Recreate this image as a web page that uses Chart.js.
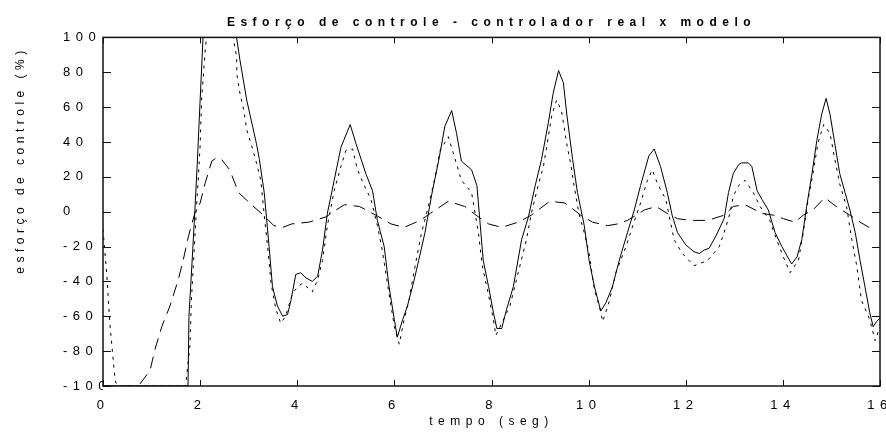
<!DOCTYPE html>
<html>
<head>
<meta charset="utf-8">
<script src="https://cdn.jsdelivr.net/npm/chart.js@4/dist/chart.umd.min.js"></script>
<style>
html,body{margin:0;padding:0;background:#fff;}
#wrap{width:886px;height:432px;}
</style>
</head>
<body>
<div id="wrap"><canvas id="c" width="886" height="432"></canvas></div>
<script>
// ---- data ----
const chartTitle = 'Esforço de controle - controlador real x modelo';
const xTitle = 'tempo (seg)';
const yTitle = 'esforço de controle (%)';
const xTicks = [0, 2, 4, 6, 8, 10, 12, 14, 16];
const yTicks = [-100, -80, -60, -40, -20, 0, 20, 40, 60, 80, 100];

// solid line (controlador real)
const realT = [0,1.75,1.77,1.85,1.89,1.94,2.00,2.06,2.75,2.82,2.96,3.16,3.22,3.32,3.42,3.49,3.59,3.70,3.80,3.87,3.97,4.07,4.18,4.31,4.42,4.52,4.62,4.76,4.90,5.09,5.21,5.41,5.55,5.65,5.79,5.89,6.00,6.06,6.17,6.27,6.40,6.50,6.63,6.77,6.91,7.04,7.18,7.28,7.38,7.59,7.70,7.76,7.83,7.94,8.04,8.11,8.21,8.31,8.45,8.62,8.76,8.90,9.03,9.17,9.27,9.38,9.48,9.55,9.67,9.77,9.91,10.01,10.12,10.25,10.36,10.49,10.63,10.80,10.94,11.07,11.24,11.35,11.48,11.62,11.72,11.83,12.00,12.17,12.28,12.38,12.48,12.62,12.79,12.88,12.98,13.09,13.15,13.29,13.36,13.47,13.57,13.70,13.84,13.98,14.08,14.18,14.29,14.39,14.49,14.60,14.70,14.80,14.89,14.97,15.07,15.17,15.28,15.38,15.49,15.59,15.69,15.79,15.86,15.93,16.00];
const realV = [-100,-100,-60,-21,0,27,64,100,100,87,64,39,30,11,-20,-43,-54,-60,-59,-51,-36,-35,-38,-40,-37,-22,-1,18,37,50,39,22,12,-5,-20,-43,-62,-72,-62,-54,-40,-28,-12,10,29,49,58,45,29,24,15,-5,-28,-43,-58,-67,-67,-56,-43,-16,-3,15,30,51,68,81,74,56,30,11,-8,-28,-43,-57,-52,-43,-28,-12,1,15,32,36,26,11,-2,-12,-19,-23,-24,-22,-21,-14,-4,11,22,27,28,28,26,12,7,1,-12,-20,-25,-30,-26,-16,3,22,41,56,65,56,39,22,11,1,-12,-28,-43,-58,-66,-63,-61];

// short-dash line (modelo)
const modelT = [0,0.08,0.14,0.25,0.30,1.70,1.79,1.82,1.86,1.93,1.96,2.00,2.03,2.10,2.13,2.68,2.75,2.76,2.82,2.90,2.96,3.06,3.16,3.25,3.32,3.39,3.46,3.56,3.66,3.76,3.90,4.01,4.11,4.31,4.42,4.52,4.62,4.76,4.90,5.00,5.14,5.24,5.38,5.52,5.65,5.75,5.89,6.00,6.10,6.20,6.30,6.40,6.56,6.70,6.84,6.94,7.11,7.21,7.38,7.59,7.73,7.81,7.94,8.04,8.09,8.21,8.38,8.55,8.72,8.82,8.96,9.07,9.24,9.34,9.44,9.55,9.64,9.70,9.80,9.91,10.01,10.12,10.22,10.29,10.43,10.56,10.77,10.91,11.07,11.21,11.31,11.42,11.59,11.76,11.93,12.17,12.45,12.69,12.79,12.91,12.98,13.09,13.22,13.39,13.53,13.73,13.87,14.01,14.15,14.32,14.42,14.52,14.62,14.72,14.84,14.97,15.07,15.17,15.31,15.42,15.52,15.62,15.79,15.90,16.00];
const modelV = [-10,-37,-64,-97,-100,-100,-77,-51,-31,5,18,38,64,91,100,100,89,78,68,58,47,38,28,18,-2,-20,-41,-56,-64,-60,-47,-43,-41,-46,-39,-28,-8,12,26,35,36,24,15,7,-8,-22,-47,-66,-76,-62,-51,-35,-12,3,20,35,43,34,18,11,-12,-31,-48,-62,-71,-64,-54,-35,-16,-1,15,26,55,64,58,39,26,15,-1,-12,-24,-45,-54,-63,-51,-35,-20,-8,5,18,24,16,7,-16,-24,-31,-28,-20,-12,-1,9,15,18,11,3,-5,-16,-26,-35,-28,-12,7,22,39,50,45,30,16,3,-16,-31,-51,-62,-74,-66];

// long-dash line (terceira curva)
const thirdT = [0,0.73,0.97,1.07,1.21,1.38,1.55,1.65,1.76,1.89,2.00,2.10,2.24,2.34,2.44,2.61,2.79,3.06,3.30,3.52,3.70,3.89,4.24,4.59,4.80,4.97,5.28,5.62,5.93,6.20,6.53,6.74,7.11,7.45,7.73,7.94,8.21,8.55,8.82,9.20,9.51,9.84,10.08,10.39,10.60,10.80,11.15,11.39,11.62,11.83,12.10,12.45,12.79,12.98,13.22,13.57,13.81,14.01,14.25,14.42,14.62,14.86,15.10,15.38,15.59,15.90];
const thirdV = [-100,-100,-91,-79,-66,-54,-39,-28,-14,-1,5,16,29,31,30,24,11,4,-2,-8,-9,-7,-6,-3,1,4,3,-2,-7,-9,-5,-1,6,3,-3,-7,-9,-6,-2,6,5,-2,-6,-8,-7,-5,1,3,-1,-4,-5,-5,-2,3,4,-1,-2,-4,-6,-2,1,8,3,-2,-6,-11];

function pts(t, v) { return t.map((x, i) => ({ x: x, y: v[i] })); }

const SPACING = '5.5px';
const spacingPlugin = {
  id: 'spacing',
  beforeUpdate(chart) { chart.ctx.letterSpacing = SPACING; },
  beforeLayout(chart) { chart.ctx.letterSpacing = SPACING; },
  beforeDraw(chart) { chart.ctx.letterSpacing = SPACING; }
};

const framePlugin = {
  id: 'frame',
  afterDatasetsDraw(chart) {
    const ctx = chart.ctx;
    const a = chart.chartArea;
    const xs = chart.scales.x, ys = chart.scales.y;
    ctx.save();
    ctx.strokeStyle = '#111';
    ctx.lineWidth = 1.5;
    ctx.strokeRect(a.left, a.top, a.right - a.left, a.bottom - a.top);
    ctx.lineWidth = 1;
    ctx.beginPath();
    xs.ticks.forEach(tk => {
      const px = Math.round(xs.getPixelForValue(tk.value)) + 0.5;
      ctx.moveTo(px, a.bottom); ctx.lineTo(px, a.bottom - 6);
      ctx.moveTo(px, a.top); ctx.lineTo(px, a.top + 6);
    });
    ys.ticks.forEach(tk => {
      const py = Math.round(ys.getPixelForValue(tk.value)) + 0.5;
      ctx.moveTo(a.left, py); ctx.lineTo(a.left + 8, py);
      ctx.moveTo(a.right, py); ctx.lineTo(a.right - 8, py);
    });
    ctx.stroke();
    ctx.restore();
  },
  afterDraw(chart) {
    const ctx = chart.ctx;
    ctx.save();
    ctx.letterSpacing = '4.5px';
    ctx.fillStyle = '#000';
    ctx.font = '12px "Liberation Sans", Arial, sans-serif';
    ctx.translate(21, 160);
    ctx.rotate(-Math.PI / 2);
    ctx.textAlign = 'center';
    ctx.textBaseline = 'middle';
    ctx.fillText(yTitle, 0, 0);
    ctx.restore();
  }
};

const tickFont = { family: '"Liberation Sans", Arial, sans-serif', size: 13 };

new Chart(document.getElementById('c'), {
  type: 'line',
  data: {
    datasets: [
      { label: 'real', data: pts(realT, realV), borderColor: '#000', borderWidth: 1, pointRadius: 0, tension: 0 },
      { label: 'modelo', data: pts(modelT, modelV), borderColor: '#000', borderWidth: 1, borderDash: [3, 5], pointRadius: 0, tension: 0 },
      { label: 'terceira', data: pts(thirdT, thirdV), borderColor: '#000', borderWidth: 1, borderDash: [12, 7], pointRadius: 0, tension: 0 }
    ]
  },
  options: {
    responsive: false,
    animation: false,
    events: [],
    layout: { padding: { left: 63, right: 6, top: 0, bottom: 0 } },
    plugins: {
      legend: { display: false },
      tooltip: { enabled: false },
      title: {
        display: true,
        text: chartTitle,
        fullSize: false,
        color: '#000',
        font: { family: '"Liberation Sans", Arial, sans-serif', size: 12, weight: 'bold', lineHeight: 1.2 },
        padding: { top: 15, bottom: 8 }
      }
    },
    scales: {
      x: {
        type: 'linear', min: 0, max: 16,
        afterBuildTicks(s) { s.ticks = xTicks.map(v => ({ value: v })); },
        afterFit(s) { s.height = 46; s.paddingLeft = 0; s.paddingRight = 0; },
        grid: { display: false, drawTicks: false },
        border: { display: false },
        ticks: { color: '#000', font: tickFont, padding: 12, maxRotation: 0, autoSkip: false },
        title: { display: true, text: xTitle, color: '#000', font: { family: '"Liberation Sans", Arial, sans-serif', size: 12 }, padding: { top: 0, bottom: 3 } }
      },
      y: {
        type: 'linear', min: -100, max: 100,
        afterBuildTicks(s) { s.ticks = yTicks.map(v => ({ value: v })); },
        afterFit(s) { s.width = 40; s.paddingTop = 0; s.paddingBottom = 0; },
        grid: { display: false, drawTicks: false },
        border: { display: false },
        ticks: { color: '#000', font: tickFont, padding: 0, crossAlign: 'far', autoSkip: false }
      }
    }
  },
  plugins: [spacingPlugin, framePlugin]
});
</script>
</body>
</html>
